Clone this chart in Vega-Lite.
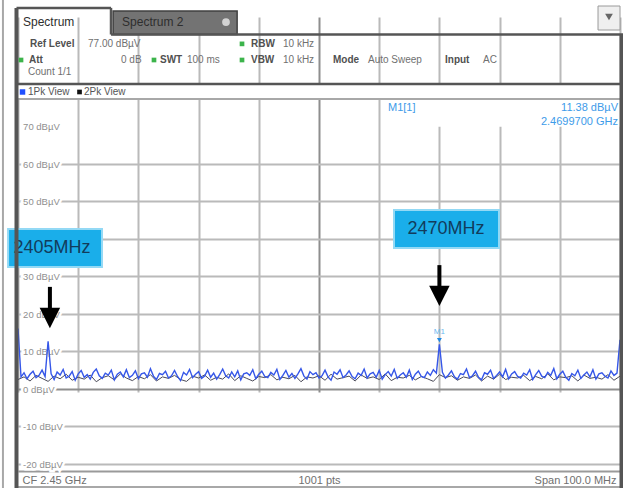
{
 "$schema": "https://vega.github.io/schema/vega-lite/v6.json",
 "width": 623,
 "height": 488,
 "autosize": {"type": "none"},
 "padding": 0,
 "background": "white",
 "config": {"view": {"stroke": null}, "font": "Liberation Sans"},
 "datasets": {
  "trace1": [
   {"f":2400,"v":16.0},{"f":2400.5,"v":3.1},{"f":2401,"v":4.2},{"f":2401.5,"v":2.6},{"f":2402,"v":3.8},{"f":2402.5,"v":4.6},{"f":2403,"v":2.9},{"f":2403.5,"v":3.5},{"f":2404,"v":4.9},{"f":2404.5,"v":3.2},
   {"f":2405,"v":12.6},{"f":2405.5,"v":3.9},{"f":2406,"v":2.4},{"f":2406.5,"v":4.4},{"f":2407,"v":3.6},{"f":2407.5,"v":5.1},{"f":2408,"v":2.8},{"f":2408.5,"v":3.3},{"f":2409,"v":4.5},{"f":2409.5,"v":2.2},
   {"f":2410,"v":3.9},{"f":2410.5,"v":4.8},{"f":2411,"v":3.0},{"f":2411.5,"v":3.7},{"f":2412,"v":2.5},{"f":2412.5,"v":4.3},{"f":2413,"v":5.2},{"f":2413.5,"v":3.4},{"f":2414,"v":2.7},{"f":2414.5,"v":4.1},
   {"f":2415,"v":3.6},{"f":2415.5,"v":4.9},{"f":2416,"v":2.3},{"f":2416.5,"v":3.8},{"f":2417,"v":4.4},{"f":2417.5,"v":3.1},{"f":2418,"v":5.0},{"f":2418.5,"v":2.9},{"f":2419,"v":3.5},{"f":2419.5,"v":4.7},
   {"f":2420,"v":2.6},{"f":2420.5,"v":3.9},{"f":2421,"v":4.2},{"f":2421.5,"v":3.0},{"f":2422,"v":5.3},{"f":2422.5,"v":3.3},{"f":2423,"v":2.4},{"f":2423.5,"v":4.0},{"f":2424,"v":3.7},{"f":2424.5,"v":4.6},
   {"f":2425,"v":2.8},{"f":2425.5,"v":3.4},{"f":2426,"v":4.8},{"f":2426.5,"v":3.2},{"f":2427,"v":2.1},{"f":2427.5,"v":4.3},{"f":2428,"v":3.6},{"f":2428.5,"v":5.1},{"f":2429,"v":2.9},{"f":2429.5,"v":3.8},
   {"f":2430,"v":4.5},{"f":2430.5,"v":2.7},{"f":2431,"v":3.3},{"f":2431.5,"v":4.9},{"f":2432,"v":3.0},{"f":2432.5,"v":4.1},{"f":2433,"v":2.5},{"f":2433.5,"v":3.7},{"f":2434,"v":5.2},{"f":2434.5,"v":3.4},
   {"f":2435,"v":2.8},{"f":2435.5,"v":4.4},{"f":2436,"v":3.1},{"f":2436.5,"v":4.7},{"f":2437,"v":2.3},{"f":2437.5,"v":3.9},{"f":2438,"v":4.2},{"f":2438.5,"v":3.5},{"f":2439,"v":5.0},{"f":2439.5,"v":2.6},
   {"f":2440,"v":3.8},{"f":2440.5,"v":4.6},{"f":2441,"v":3.2},{"f":2441.5,"v":2.9},{"f":2442,"v":4.3},{"f":2442.5,"v":3.6},{"f":2443,"v":5.1},{"f":2443.5,"v":2.4},{"f":2444,"v":3.5},{"f":2444.5,"v":4.8},
   {"f":2445,"v":3.0},{"f":2445.5,"v":4.0},{"f":2446,"v":2.7},{"f":2446.5,"v":3.9},{"f":2447,"v":5.3},{"f":2447.5,"v":3.3},{"f":2448,"v":2.5},{"f":2448.5,"v":4.5},{"f":2449,"v":3.7},{"f":2449.5,"v":4.2},
   {"f":2450,"v":2.8},{"f":2450.5,"v":3.4},{"f":2451,"v":4.9},{"f":2451.5,"v":3.1},{"f":2452,"v":2.2},{"f":2452.5,"v":4.4},{"f":2453,"v":3.8},{"f":2453.5,"v":5.0},{"f":2454,"v":2.9},{"f":2454.5,"v":3.6},
   {"f":2455,"v":4.7},{"f":2455.5,"v":3.2},{"f":2456,"v":2.6},{"f":2456.5,"v":4.1},{"f":2457,"v":3.5},{"f":2457.5,"v":5.2},{"f":2458,"v":2.8},{"f":2458.5,"v":3.9},{"f":2459,"v":4.3},{"f":2459.5,"v":3.0},
   {"f":2460,"v":4.8},{"f":2460.5,"v":2.5},{"f":2461,"v":3.7},{"f":2461.5,"v":4.5},{"f":2462,"v":3.3},{"f":2462.5,"v":5.1},{"f":2463,"v":2.7},{"f":2463.5,"v":3.6},{"f":2464,"v":4.2},{"f":2464.5,"v":3.0},
   {"f":2465,"v":4.9},{"f":2465.5,"v":2.4},{"f":2466,"v":3.8},{"f":2466.5,"v":4.6},{"f":2467,"v":3.2},{"f":2467.5,"v":2.9},{"f":2468,"v":4.4},{"f":2468.5,"v":3.5},{"f":2469,"v":5.0},{"f":2469.5,"v":4.1},
   {"f":2470,"v":11.8},{"f":2470.5,"v":4.3},{"f":2471,"v":2.8},{"f":2471.5,"v":3.6},{"f":2472,"v":4.7},{"f":2472.5,"v":3.1},{"f":2473,"v":2.5},{"f":2473.5,"v":4.0},{"f":2474,"v":3.7},{"f":2474.5,"v":5.2},
   {"f":2475,"v":2.9},{"f":2475.5,"v":3.4},{"f":2476,"v":4.6},{"f":2476.5,"v":3.0},{"f":2477,"v":2.3},{"f":2477.5,"v":4.2},{"f":2478,"v":3.8},{"f":2478.5,"v":4.9},{"f":2479,"v":2.7},{"f":2479.5,"v":3.5},
   {"f":2480,"v":4.4},{"f":2480.5,"v":3.1},{"f":2481,"v":5.1},{"f":2481.5,"v":2.6},{"f":2482,"v":3.9},{"f":2482.5,"v":4.5},{"f":2483,"v":3.2},{"f":2483.5,"v":2.8},{"f":2484,"v":4.1},{"f":2484.5,"v":3.6},
   {"f":2485,"v":5.0},{"f":2485.5,"v":2.4},{"f":2486,"v":3.7},{"f":2486.5,"v":4.8},{"f":2487,"v":3.3},{"f":2487.5,"v":2.9},{"f":2488,"v":4.3},{"f":2488.5,"v":3.5},{"f":2489,"v":5.3},{"f":2489.5,"v":2.6},
   {"f":2490,"v":3.8},{"f":2490.5,"v":4.6},{"f":2491,"v":3.0},{"f":2491.5,"v":2.2},{"f":2492,"v":4.0},{"f":2492.5,"v":3.4},{"f":2493,"v":4.9},{"f":2493.5,"v":2.7},{"f":2494,"v":3.6},{"f":2494.5,"v":4.4},
   {"f":2495,"v":3.1},{"f":2495.5,"v":5.0},{"f":2496,"v":2.5},{"f":2496.5,"v":3.9},{"f":2497,"v":4.2},{"f":2497.5,"v":3.3},{"f":2498,"v":2.8},{"f":2498.5,"v":4.7},{"f":2499,"v":3.5},{"f":2499.5,"v":4.1},
   {"f":2500,"v":13.0}
  ],
  "trace2": [
   {"f":2400,"v":2.4},{"f":2401,"v":3.1},{"f":2402,"v":2.0},{"f":2403,"v":3.5},{"f":2404,"v":2.7},{"f":2405,"v":1.9},{"f":2406,"v":3.3},{"f":2407,"v":2.6},{"f":2408,"v":3.8},{"f":2409,"v":2.2},
   {"f":2410,"v":3.0},{"f":2411,"v":2.5},{"f":2412,"v":3.6},{"f":2413,"v":1.8},{"f":2414,"v":2.9},{"f":2415,"v":3.4},{"f":2416,"v":2.3},{"f":2417,"v":3.9},{"f":2418,"v":2.8},{"f":2419,"v":2.1},
   {"f":2420,"v":3.2},{"f":2421,"v":2.6},{"f":2422,"v":3.7},{"f":2423,"v":2.0},{"f":2424,"v":3.1},{"f":2425,"v":2.7},{"f":2426,"v":3.5},{"f":2427,"v":2.4},{"f":2428,"v":1.9},{"f":2429,"v":3.3},
   {"f":2430,"v":2.8},{"f":2431,"v":3.6},{"f":2432,"v":2.2},{"f":2433,"v":3.0},{"f":2434,"v":2.5},{"f":2435,"v":3.9},{"f":2436,"v":2.1},{"f":2437,"v":3.4},{"f":2438,"v":2.7},{"f":2439,"v":2.0},
   {"f":2440,"v":3.2},{"f":2441,"v":2.9},{"f":2442,"v":3.7},{"f":2443,"v":2.3},{"f":2444,"v":3.0},{"f":2445,"v":2.6},{"f":2446,"v":3.5},{"f":2447,"v":1.8},{"f":2448,"v":3.1},{"f":2449,"v":2.8},
   {"f":2450,"v":3.4},{"f":2451,"v":2.2},{"f":2452,"v":3.8},{"f":2453,"v":2.5},{"f":2454,"v":2.9},{"f":2455,"v":3.3},{"f":2456,"v":2.0},{"f":2457,"v":3.6},{"f":2458,"v":2.7},{"f":2459,"v":3.1},
   {"f":2460,"v":2.4},{"f":2461,"v":3.9},{"f":2462,"v":2.1},{"f":2463,"v":3.0},{"f":2464,"v":2.8},{"f":2465,"v":3.5},{"f":2466,"v":2.3},{"f":2467,"v":3.2},{"f":2468,"v":2.6},{"f":2469,"v":1.9},
   {"f":2470,"v":3.7},{"f":2471,"v":2.9},{"f":2472,"v":3.4},{"f":2473,"v":2.2},{"f":2474,"v":3.1},{"f":2475,"v":2.7},{"f":2476,"v":3.6},{"f":2477,"v":2.0},{"f":2478,"v":3.3},{"f":2479,"v":2.5},
   {"f":2480,"v":3.8},{"f":2481,"v":2.4},{"f":2482,"v":3.0},{"f":2483,"v":2.8},{"f":2484,"v":3.5},{"f":2485,"v":2.1},{"f":2486,"v":3.2},{"f":2487,"v":2.6},{"f":2488,"v":3.9},{"f":2489,"v":2.3},
   {"f":2490,"v":3.1},{"f":2491,"v":2.9},{"f":2492,"v":3.4},{"f":2493,"v":2.0},{"f":2494,"v":3.6},{"f":2495,"v":2.7},{"f":2496,"v":3.0},{"f":2497,"v":2.5},{"f":2498,"v":3.7},{"f":2499,"v":2.2},
   {"f":2500,"v":3.3}
  ],
  "yLabels": [
   {"f":2400.85,"v":70,"t":"70 dBµV"},{"f":2400.85,"v":60,"t":"60 dBµV"},{"f":2400.85,"v":50,"t":"50 dBµV"},{"f":2400.85,"v":30,"t":"30 dBµV"},
   {"f":2400.85,"v":20,"t":"20 dBµV"},{"f":2400.85,"v":10,"t":"10 dBµV"},{"f":2400.85,"v":0,"t":"0 dBµV"},{"f":2400.85,"v":-10,"t":"-10 dBµV"},{"f":2400.85,"v":-20,"t":"-20 dBµV"}
  ],
  "covers": [
   {"f":2399.75,"f2":2500.25,"v":81.2,"v2":77.2},
   {"f":2460.8,"f2":2500.0,"v":77.2,"v2":69.8}
  ],
  "calloutBoxes": [
   {"f":2398.35,"f2":2413.95,"v":42.53,"v2":32.4},
   {"f":2462.46,"f2":2479.9,"v":47.6,"v2":37.47}
  ],
  "calloutText": [
   {"f":2405.65,"v":37.5,"t":"2405MHz"},
   {"f":2471.1,"v":42.5,"t":"2470MHz"}
  ],
  "arrowShafts": [
   {"f":2405.3,"f2":2405.3,"v":27.1,"v2":20.5},
   {"f":2470,"f2":2470,"v":32.9,"v2":26.5}
  ],
  "arrowHeads": [
   {"f":2405.3,"v":18.8},
   {"f":2470,"v":24.7}
  ],
  "marker": [{"f":2470,"v":12.9}],
  "markerLabel": [{"f":2470,"v":15.0,"t":"M1"}],
  "markerInfoLeft": [{"f":2461.46,"v":74.8,"t":"M1[1]"}],
  "markerInfoRight": [
   {"f":2499.67,"v":74.8,"t":"11.38 dBµV"},
   {"f":2499.67,"v":71.07,"t":"2.4699700 GHz"}
  ],
  "frameRules": [
   {"f":2399.75,"f2":2399.75,"v":101.5,"v2":-26.6},
   {"f":2500.25,"f2":2500.25,"v":94.4,"v2":-26.6}
  ],
  "headerRules": [
   {"f":2399.75,"f2":2415.45,"v":101.5,"v2":101.5},
   {"f":2415.45,"f2":2415.45,"v":101.5,"v2":94.4},
   {"f":2415.45,"f2":2500.5,"v":94.4,"v2":94.4},
   {"f":2399.75,"f2":2500.5,"v":81.2,"v2":81.2}
  ],
  "grayRules": [
   {"f":2399.75,"f2":2500.25,"v":77.2,"v2":77.2},
   {"f":2399.75,"f2":2500.25,"v":-26.27,"v2":-26.27},
   {"f":2397.5,"f2":2397.5,"v":103.6,"v2":-26.6}
  ],
  "tab2": [{"f":2415.8,"f2":2436.4,"v":100.67,"v2":94.4}],
  "iconBox": [{"f":2496.35,"f2":2500.0,"v":102.0,"v2":95.6}],
  "iconGlyph": [{"f":2498.17,"v":99.07}],
  "closeBtn": [{"f":2434.55,"v":97.73}],
  "greenDots": [
   {"f":2437.21,"v":91.9},{"f":2400.5,"v":87.6},{"f":2422.59,"v":87.6},{"f":2437.21,"v":87.6}
  ],
  "blueDot": [{"f":2400.75,"v":79.07}],
  "blackDot": [{"f":2410.22,"v":79.07}],
  "tabText": [
   {"f":2400.83,"v":97.73,"t":"Spectrum"},
   {"f":2417.28,"v":97.73,"t":"Spectrum 2"}
  ],
  "headLabels": [
   {"f":2401.99,"v":91.9,"t":"Ref Level"},
   {"f":2438.7,"v":91.9,"t":"RBW"},
   {"f":2401.83,"v":87.6,"t":"Att"},
   {"f":2423.59,"v":87.6,"t":"SWT"},
   {"f":2438.7,"v":87.6,"t":"VBW"},
   {"f":2452.33,"v":87.6,"t":"Mode"},
   {"f":2470.93,"v":87.6,"t":"Input"}
  ],
  "headValues": [
   {"f":2411.63,"v":91.9,"t":"77.00 dBµV"},
   {"f":2444.02,"v":91.9,"t":"10 kHz"},
   {"f":2417.11,"v":87.6,"t":"0 dB"},
   {"f":2428.07,"v":87.6,"t":"100 ms"},
   {"f":2444.02,"v":87.6,"t":"10 kHz"},
   {"f":2458.14,"v":87.6,"t":"Auto Sweep"},
   {"f":2477.24,"v":87.6,"t":"AC"},
   {"f":2401.66,"v":84.4,"t":"Count 1/1"}
  ],
  "traceBarText": [
   {"f":2401.66,"v":79.07,"t":"1Pk View"},
   {"f":2410.96,"v":79.07,"t":"2Pk View"}
  ]
 },
 "encoding": {
  "x": {
   "field": "f", "type": "quantitative",
   "scale": {"domain": [2400, 2500], "range": [18, 620], "nice": false, "zero": false},
   "axis": {
    "title": null,
    "values": [2400,2410,2420,2430,2440,2450,2460,2470,2480,2490,2500],
    "labelExpr": "datum.value == 2400 ? 'CF 2.45 GHz' : datum.value == 2450 ? '1001 pts' : datum.value == 2500 ? 'Span 100.0 MHz' : ''",
    "grid": true,
    "gridColor": {"condition": {"test": "datum.value == 2450", "value": "#8e8e8e"}, "value": "#bababa"},
    "gridWidth": 2,
    "ticks": false, "tickSize": 0,
    "domain": true, "domainColor": "#9a9a9a", "domainWidth": 2,
    "offset": -17,
    "labelPadding": 3,
    "labelFlush": true, "labelFlushOffset": -4,
    "labelOverlap": false,
    "labelFontSize": 11, "labelColor": "#707070"
   }
  },
  "y": {
   "field": "v", "type": "quantitative",
   "scale": {"domain": [-22, 78], "range": [471, 96], "nice": false, "zero": false},
   "axis": {
    "title": null,
    "values": [60,50,40,30,20,10,0,-10,-20],
    "grid": true,
    "gridColor": {"condition": {"test": "datum.value == 0", "value": "#8e8e8e"}, "value": "#bababa"},
    "gridWidth": 2,
    "labels": false, "ticks": false, "domain": false
   }
  }
 },
 "layer": [
  {"data": {"name": "covers"}, "mark": {"type": "rect", "fill": "white"},
   "encoding": {"x2": {"field": "f2"}, "y2": {"field": "v2"}}},
  {"data": {"name": "yLabels"}, "mark": {"type": "text", "align": "left", "baseline": "middle", "dy": 1, "fontSize": 9.5, "fill": "white", "stroke": "white", "strokeWidth": 5},
   "encoding": {"text": {"field": "t"}}},
  {"data": {"name": "yLabels"}, "mark": {"type": "text", "align": "left", "baseline": "middle", "dy": 1, "fontSize": 9.5, "fill": "#8f8f8f"},
   "encoding": {"text": {"field": "t"}}},
  {"data": {"name": "trace2"}, "mark": {"type": "line", "color": "#4a4a58", "strokeWidth": 1}},
  {"data": {"name": "trace1"}, "mark": {"type": "line", "color": "#3657e8", "strokeWidth": 1.4}},
  {"data": {"name": "marker"}, "mark": {"type": "point", "shape": "triangle-down", "filled": true, "size": 24, "color": "#1e88e5", "opacity": 1}},
  {"data": {"name": "markerLabel"}, "mark": {"type": "text", "align": "center", "baseline": "middle", "fontSize": 8, "fill": "#6ab8f0"},
   "encoding": {"text": {"field": "t"}}},
  {"data": {"name": "markerInfoLeft"}, "mark": {"type": "text", "align": "left", "baseline": "middle", "fontSize": 11, "fill": "#3d9be9"},
   "encoding": {"text": {"field": "t"}}},
  {"data": {"name": "markerInfoRight"}, "mark": {"type": "text", "align": "right", "baseline": "middle", "fontSize": 11, "fill": "#3d9be9"},
   "encoding": {"text": {"field": "t"}}},
  {"data": {"name": "calloutBoxes"}, "mark": {"type": "rect", "fill": "#1aaeea", "stroke": "#93d9f5", "strokeWidth": 2},
   "encoding": {"x2": {"field": "f2"}, "y2": {"field": "v2"}}},
  {"data": {"name": "calloutText"}, "mark": {"type": "text", "align": "center", "baseline": "middle", "fontSize": 18, "fill": "#123c5c"},
   "encoding": {"text": {"field": "t"}}},
  {"data": {"name": "arrowShafts"}, "mark": {"type": "rule", "color": "black", "strokeWidth": 4},
   "encoding": {"x2": {"field": "f2"}, "y2": {"field": "v2"}}},
  {"data": {"name": "arrowHeads"}, "mark": {"type": "point", "shape": "M-1,-1L1,-1L0,1Z", "filled": true, "size": 420, "color": "black", "opacity": 1}},
  {"data": {"name": "tab2"}, "mark": {"type": "rect", "fill": "#737373", "stroke": "#404040", "strokeWidth": 1.5},
   "encoding": {"x2": {"field": "f2"}, "y2": {"field": "v2"}}},
  {"data": {"name": "iconBox"}, "mark": {"type": "rect", "fill": "#efefef", "stroke": "#9a9a9a", "strokeWidth": 1},
   "encoding": {"x2": {"field": "f2"}, "y2": {"field": "v2"}}},
  {"data": {"name": "iconGlyph"}, "mark": {"type": "point", "shape": "triangle-down", "filled": true, "size": 60, "color": "#666666", "opacity": 1}},
  {"data": {"name": "closeBtn"}, "mark": {"type": "point", "shape": "circle", "filled": true, "size": 60, "color": "#d2d2d2", "opacity": 1}},
  {"data": {"name": "grayRules"}, "mark": {"type": "rule", "color": "#a8a8a8", "strokeWidth": 2},
   "encoding": {"x2": {"field": "f2"}, "y2": {"field": "v2"}}},
  {"data": {"name": "headerRules"}, "mark": {"type": "rule", "color": "#555555", "strokeWidth": 2.5},
   "encoding": {"x2": {"field": "f2"}, "y2": {"field": "v2"}}},
  {"data": {"name": "frameRules"}, "mark": {"type": "rule", "color": "#555555", "strokeWidth": 4},
   "encoding": {"x2": {"field": "f2"}, "y2": {"field": "v2"}}},
  {"data": {"name": "greenDots"}, "mark": {"type": "point", "shape": "square", "filled": true, "size": 22, "color": "#3cb44b", "opacity": 1}},
  {"data": {"name": "blueDot"}, "mark": {"type": "point", "shape": "square", "filled": true, "size": 30, "color": "#1f4fff", "opacity": 1}},
  {"data": {"name": "blackDot"}, "mark": {"type": "point", "shape": "square", "filled": true, "size": 22, "color": "#111111", "opacity": 1}},
  {"data": {"name": "tabText"}, "mark": {"type": "text", "align": "left", "baseline": "middle", "fontSize": 12, "fill": "#2e2e2e"},
   "encoding": {"text": {"field": "t"}}},
  {"data": {"name": "headLabels"}, "mark": {"type": "text", "align": "left", "baseline": "middle", "fontSize": 10, "fontWeight": "bold", "fill": "#505050"},
   "encoding": {"text": {"field": "t"}}},
  {"data": {"name": "headValues"}, "mark": {"type": "text", "align": "left", "baseline": "middle", "fontSize": 10, "fill": "#707070"},
   "encoding": {"text": {"field": "t"}}},
  {"data": {"name": "traceBarText"}, "mark": {"type": "text", "align": "left", "baseline": "middle", "fontSize": 10, "fill": "#555555"},
   "encoding": {"text": {"field": "t"}}}
 ]
}
